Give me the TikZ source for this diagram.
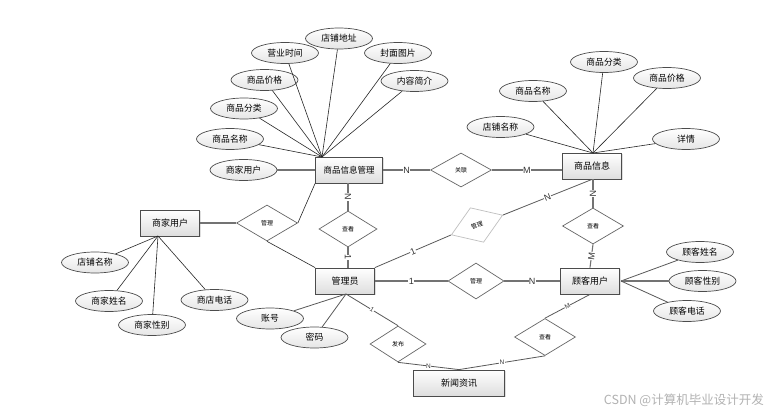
\documentclass[tikz,border=0pt]{standalone}
\usepackage{fontspec}
\setmainfont{Liberation Sans}
\newfontfamily\cjk{Noto Sans CJK SC}
\usetikzlibrary{shapes.geometric,shadows}
\begin{document}
\begin{tikzpicture}[x=1pt,y=-1pt,
  ent/.style={draw=black!70, line width=0.8pt, top color=white, bottom color=black!13,
    minimum width=59pt, minimum height=26pt, inner sep=0,
    font=\cjk\fontsize{9}{10}\selectfont,
    drop shadow={shadow xshift=1pt,shadow yshift=-1pt,opacity=0.25}},
  attr/.style={ellipse, draw=black!70, line width=0.7pt, top color=white, bottom color=black!10,
    minimum width=67pt, minimum height=21pt, inner sep=0,
    font=\cjk\fontsize{8.8}{9}\selectfont},
  rel/.style={diamond, draw=black!60, line width=0.7pt, fill=white,
    minimum width=58pt, minimum height=36pt, inner sep=0,
    font=\cjk\fontsize{6}{7}\selectfont},
  conn/.style={draw=black!55, line width=1.1pt},
  midl/.style={draw=black!65, line width=0.8pt},
  aline/.style={draw=black!85, line width=0.6pt},
  card/.style={font=\fontsize{9}{9}\selectfont, text=black!80, inner sep=0.4pt, fill=white},
  scard/.style={font=\fontsize{6.5}{7}\selectfont, text=black!80, inner sep=0.3pt, fill=white}
]
\useasboundingbox (0,0) rectangle (772,415);
\fill[white] (0,0) rectangle (772,415);

% convergence points
\coordinate (c1) at (322,157);
\coordinate (c2) at (593,153);
\coordinate (c3) at (158,236);
\coordinate (c4) at (346,294);
\coordinate (c5) at (621,281);

% attributes of 商品信息管理
\node[attr] (a1) at (339,38.5) {店铺地址};
\node[attr] (a2) at (285,53) {营业时间};
\node[attr] (a3) at (398,53) {封面图片};
\node[attr] (a4) at (264.5,80) {商品价格};
\node[attr] (a5) at (414.5,81) {内容简介};
\node[attr] (a6) at (244,108.5) {商品分类};
\node[attr] (a7) at (230,139) {商品名称};
\node[attr] (a8) at (243.5,170) {商家用户};

% attributes of 商品信息
\node[attr] (b1) at (604,62) {商品分类};
\node[attr] (b2) at (533,91) {商品名称};
\node[attr] (b3) at (667,78) {商品价格};
\node[attr] (b4) at (500.5,127) {店铺名称};
\node[attr] (b5) at (686,139) {详情};

% attributes of 商家用户
\node[attr] (s1) at (95,262.5) {店铺名称};
\node[attr] (s2) at (109,301) {商家姓名};
\node[attr] (s3) at (152,325) {商家性别};
\node[attr] (s4) at (214.5,300) {商店电话};

% attributes of 管理员
\node[attr] (g1) at (270,318.5) {账号};
\node[attr] (g2) at (314.5,337.5) {密码};

% attributes of 顾客用户
\node[attr] (k1) at (700,252) {顾客姓名};
\node[attr] (k2) at (702.5,281) {顾客性别};
\node[attr] (k3) at (687,311) {顾客电话};

% entities
\node[ent, minimum width=67pt, font=\cjk\fontsize{8.5}{9}\selectfont] (spxxgl) at (349,170) {商品信息管理};
\node[ent] (spxx) at (592,166) {商品信息};
\node[ent] (sjyh) at (170,223) {商家用户};
\node[ent] (gly) at (345,281) {管理员};
\node[ent] (gkyh) at (590,281) {顾客用户};
\node[ent, minimum width=91pt] (xwzx) at (459,383) {新闻资讯};

% relationships
\node[rel, minimum width=61pt, minimum height=34pt] (gl1) at (461,170) {关联};
\node[rel] (ck1) at (348,229) {查看};
\node[rel, minimum width=61pt] (gl2) at (267,223) {管理};
\node[rel, draw=black!25, minimum width=55pt, minimum height=37pt, rotate=21] (gl3) at (477,225) {管理};
\node[rel, minimum width=56pt] (gl4) at (476,281) {管理};
\node[rel, minimum width=61pt] (ck2) at (593,226) {查看};
\node[rel, minimum width=56pt] (fb) at (398,344) {发布};
\node[rel, minimum width=61pt, minimum height=37pt] (ck3) at (545,337) {查看};

% attribute lines
\foreach \a in {a1,a2,a3,a4,a5,a6,a7} \draw[aline] (\a) -- (c1);
\draw[conn] (a8) -- (spxxgl.west |- a8);
\foreach \a in {b1,b2,b3,b4,b5} \draw[aline] (\a) -- (c2);
\foreach \a in {s1,s2,s3,s4} \draw[aline] (\a) -- (c3);
\foreach \a in {g1,g2} \draw[midl] (\a) -- (c4);
\draw[midl] (k1) -- (c5);
\draw[conn] (k2) -- (c5);
\draw[midl] (k3) -- (c5);

% relationship lines
\draw[conn] (spxxgl.east) -- node[card]{N} (gl1.west);
\draw[conn] (gl1.east) -- node[card]{M} (spxx.west |- gl1.east);
\draw[conn] (spxxgl.south -| ck1) -- node[card,sloped]{N} (ck1.north);
\draw[conn] (ck1.south) -- node[card,sloped]{1} (gly.north -| ck1);
\draw[aline] (spxxgl.south west) -- (gl2.east);
\draw[conn] (sjyh.east) -- (gl2.west);
\draw[aline] (gl2.south) -- (gly.north west);
\draw[conn] (gly.east) -- node[card]{1} (gl4.west);
\draw[conn] (gl4.east) -- node[card]{N} (gkyh.west);
\draw[midl] (gly.north east) -- node[card,sloped]{1} (gl3.west);
\draw[midl] (gl3.east) -- node[card,sloped]{N} (spxx.south);
\draw[conn] (spxx.south -| ck2) -- node[card,sloped]{N} (ck2.north);
\draw[conn] (ck2.south) -- node[card,sloped]{M} (gkyh.north);
\draw[midl] (c4) -- node[scard,sloped]{1} (fb.north);
\draw[midl] (fb.south) -- node[scard]{N} (xwzx.north);
\draw[midl] (xwzx.north) -- node[scard]{N} (ck3.south);
\draw[midl] (ck3.north) -- node[scard,sloped]{M} (gkyh.south);

% watermark
\node[font=\cjk\fontsize{12.5}{13}\selectfont, text=black!30, anchor=east, inner sep=0] (wm) at (764,400) {CSDN @计算机毕业设计开发};
\end{tikzpicture}
\end{document}
